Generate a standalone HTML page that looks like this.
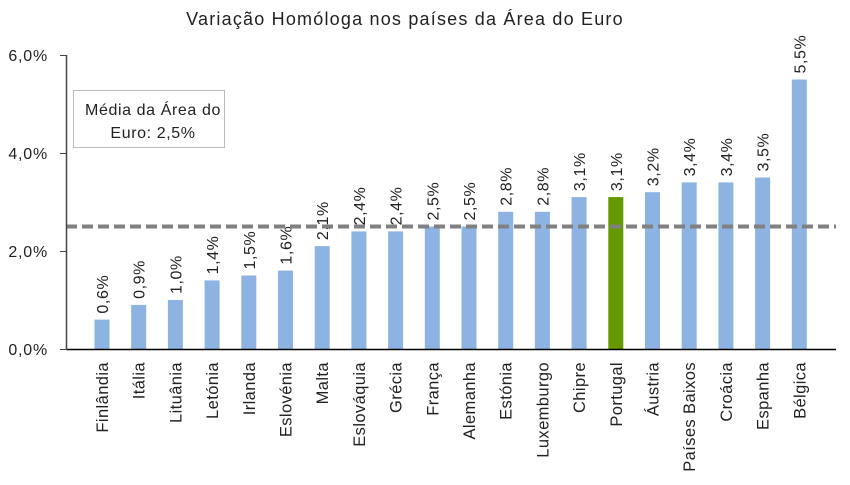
<!DOCTYPE html>
<html><head><meta charset="utf-8"><style>
body{margin:0;background:#fff}
svg text{font-family:"Liberation Sans","DejaVu Sans",sans-serif;fill:#222}
</style></head><body>
<svg width="850" height="480" viewBox="0 0 850 480" id="chart">
<text x="405" y="25" text-anchor="middle" font-size="18" letter-spacing="1.2">Variação Homóloga nos países da Área do Euro</text>
<g id="yaxis"></g>
<g id="bars"></g>
<line x1="66" y1="227" x2="836" y2="227" stroke="#808080" stroke-width="4" stroke-dasharray="11,5" id="avgline"/>
<line x1="66" y1="349.5" x2="836" y2="349.5" stroke="#000" stroke-width="1.5"/>
<line x1="66.5" y1="55" x2="66.5" y2="350" stroke="#444" stroke-width="1.5"/>
<g>
<rect x="73.5" y="90.5" width="151" height="57" fill="#fff" stroke="#bbb"/>
<text x="153" y="115" text-anchor="middle" font-size="16" letter-spacing="0.6">Média da Área do</text>
<text x="153" y="138" text-anchor="middle" font-size="16" letter-spacing="0.6">Euro: 2,5%</text>
</g>
</svg>
<script>
const categories=["Finlândia","Itália","Lituânia","Letónia","Irlanda","Eslovénia","Malta","Eslováquia","Grécia","França","Alemanha","Estónia","Luxemburgo","Chipre","Portugal","Áustria","Países Baixos","Croácia","Espanha","Bélgica"];
const values=[0.6,0.9,1.0,1.4,1.5,1.6,2.1,2.4,2.4,2.5,2.5,2.8,2.8,3.1,3.1,3.2,3.4,3.4,3.5,5.5];
const yTicks=[0,2,4,6];
const average=2.5;
const NS="http://www.w3.org/2000/svg";
function y(v){return 349-v*49;}
function x(i){return 102+i*36.7;}
const fmt=v=>v.toFixed(1).replace('.',',')+'%';
const ya=document.getElementById('yaxis');
yTicks.forEach(t=>{
 const l=document.createElementNS(NS,'line');
 
 
 l.setAttribute('x1',60);l.setAttribute('x2',66);l.setAttribute('y1',y(t)+0.5);l.setAttribute('y2',y(t)+0.5);l.setAttribute('stroke','#444');
 ya.appendChild(l);
 const tx=document.createElementNS(NS,'text');
 
 
 tx.setAttribute('x',48);tx.setAttribute('y',y(t)+6);tx.setAttribute('text-anchor','end');tx.setAttribute('font-size','16');tx.setAttribute('letter-spacing','0.8');
 tx.textContent=fmt(t);ya.appendChild(tx);
});
const al=document.getElementById('avgline');
al.setAttribute('y1',y(average));al.setAttribute('y2',y(average));
const g=document.getElementById('bars');
categories.forEach((c,i)=>{
 const v=values[i];
 const r=document.createElementNS(NS,'rect');
 
 
 r.setAttribute('x',x(i)-7.5);r.setAttribute('width',15);r.setAttribute('y',y(v));r.setAttribute('height',349-y(v));
 r.setAttribute('fill',c==='Portugal'?'#669900':'#8db3e2');
 g.appendChild(r);
 const vl=document.createElementNS(NS,'text');
 
 
 vl.setAttribute('transform','translate('+(x(i)+6)+','+(y(v)-6)+') rotate(-90)');
 vl.setAttribute('font-size','16');vl.setAttribute('letter-spacing','0.6');
 vl.textContent=fmt(v);g.appendChild(vl);
 const cl=document.createElementNS(NS,'text');
 
 
 cl.setAttribute('transform','translate('+(x(i)+6)+',362) rotate(-90)');
 cl.setAttribute('text-anchor','end');cl.setAttribute('font-size','16.5');cl.setAttribute('letter-spacing','0.4');
 cl.textContent=c;g.appendChild(cl);
});
</script>
</body></html>
